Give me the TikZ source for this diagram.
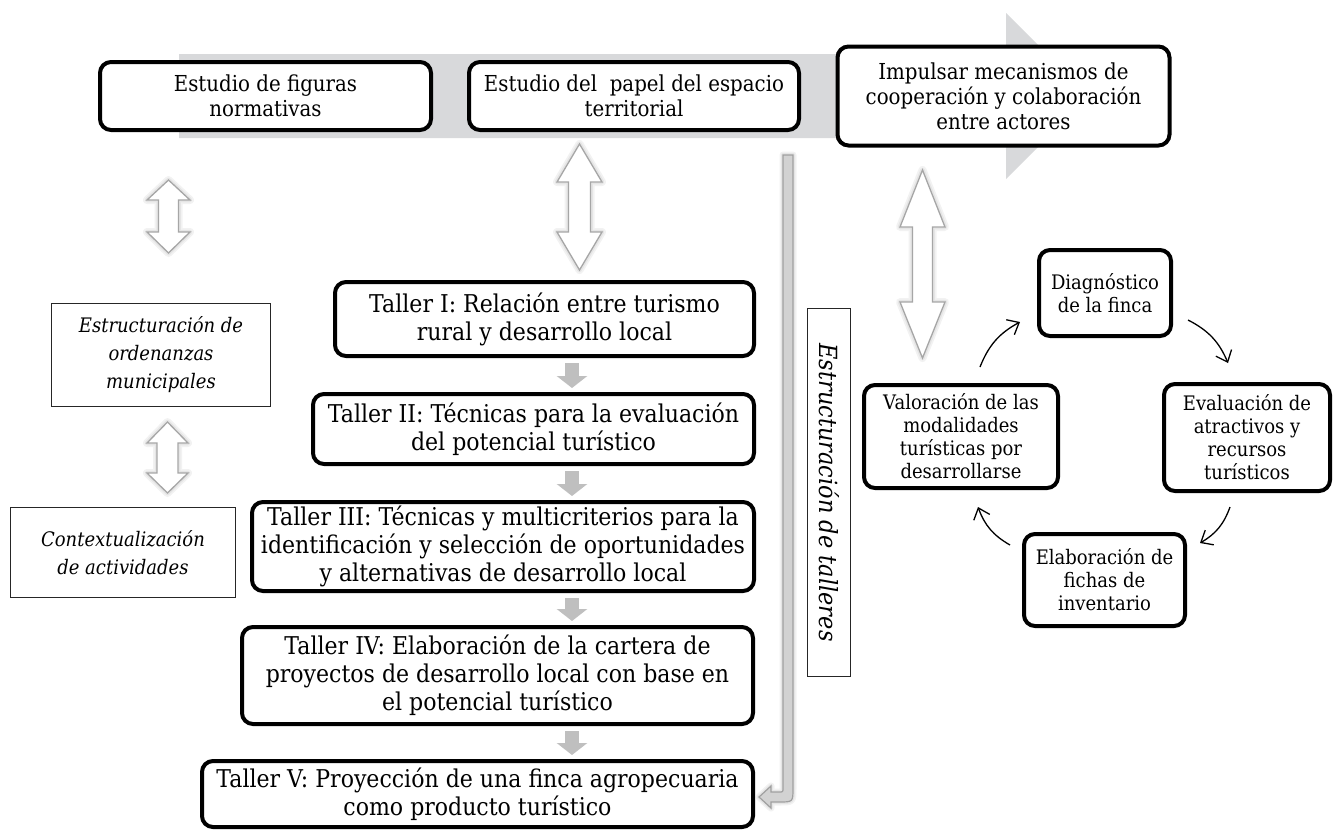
\documentclass[tikz,border=0pt]{standalone}
\usepackage{fontspec}
\setmainfont{DejaVu Serif}[FakeStretch=0.9]
\usetikzlibrary{arrows.meta}
\definecolor{bandgray}{RGB}{216,217,219}
\definecolor{dblgray}{RGB}{166,166,166}
\definecolor{stepgray}{RGB}{191,191,191}
\definecolor{barfill}{RGB}{210,210,210}
\definecolor{barline}{RGB}{160,160,160}
\newcommand{\dblpath}[7]{(#1,#2) -- ({#1+#4},{#2+#6}) -- ({#1+#5},{#2+#6}) -- ({#1+#5},{#3-#7}) -- ({#1+#4},{#3-#7}) -- (#1,#3) -- ({#1-#4},{#3-#7}) -- ({#1-#5},{#3-#7}) -- ({#1-#5},{#2+#6}) -- ({#1-#4},{#2+#6}) -- cycle}
\newcommand{\hollowdbl}[7]{%
  \draw[glow, line width=8pt] \dblpath{#1}{#2}{#3}{#4}{#5}{#6}{#7};
  \draw[glow, line width=4.5pt] \dblpath{#1}{#2}{#3}{#4}{#5}{#6}{#7};
  \draw[dblarrow] \dblpath{#1}{#2}{#3}{#4}{#5}{#6}{#7};}
\newcommand{\bentpath}{(783,155) -- (793,155) -- (793,788) .. controls (793,802) and (793,802) .. (779,802) -- (771,802) -- (771,808) -- (759,797) -- (771,786) -- (771,792) -- (779,792) .. controls (783,792) and (783,792) .. (783,788) -- cycle}
\tikzset{
  glow/.style={black, opacity=0.05, line join=round},
  dblarrow/.style={draw=dblgray, fill=white, line width=1.3pt, line join=miter},
  bigbox/.style={draw=black, line width=4pt, rounded corners=11pt, fill=white, align=center, inner sep=0pt, font=\fontsize{22}{25}\selectfont},
  tallerbox/.style={bigbox, font=\fontsize{24.5}{28}\selectfont},
  cyclebox/.style={bigbox, font=\fontsize{20}{23}\selectfont},
  notebox/.style={draw=black!85, line width=0.8pt, fill=white, align=center, inner sep=0pt, font=\itshape\fontsize{20}{28}\selectfont},
  stepflow/.style={draw=stepgray, line width=14pt, -{Triangle[length=12pt,width=30pt]}, shorten <=5pt, shorten >=4pt},
  cyclearrow/.style={draw=black, line width=1.3pt, -{Straight Barb[length=10pt,width=17pt]}},
}
\begin{document}
\begin{tikzpicture}[x=1pt, y=-1pt]
\fill[white] (0,0) rectangle (1334,831);
\useasboundingbox (0,0) rectangle (1334,831);

% big gray band arrow
\fill[bandgray] (179,54) -- (1006,54) -- (1006,13) -- (1089,96) -- (1006,179) -- (1006,138) -- (179,138) -- cycle;

% top boxes
\node[bigbox, minimum width=331, minimum height=68] (E1) at (265.5,96) {Estudio de figuras\\normativas};
\node[bigbox, minimum width=330, minimum height=68] (E2) at (634,96) {Estudio del\ \ papel del espacio\\territorial};
\node[bigbox, minimum width=332, minimum height=99] (E3) at (1003.5,96) {Impulsar mecanismos de\\cooperación y colaboración\\entre actores};

% side note boxes
\node[notebox, minimum width=219, minimum height=103] (S1) at (161,355) {Estructuración de\\ordenanzas\\municipales};
\node[notebox, minimum width=225, minimum height=90] (S2) at (123,552.5) {Contextualización\\de actividades};

% talleres
\node[tallerbox, minimum width=419, minimum height=74] (T1) at (544.5,319) {Taller I: Relación entre turismo\\rural y desarrollo local};
\node[tallerbox, minimum width=441, minimum height=70] (T2) at (533.5,429) {Taller II: Técnicas para la evaluación\\del potencial turístico};
\node[tallerbox, minimum width=502, minimum height=89] (T3) at (503,546.5) {Taller III: Técnicas y multicriterios para la\\identificación y selección de oportunidades\\y alternativas de desarrollo local};
\node[tallerbox, minimum width=511, minimum height=97] (T4) at (497.5,675.5) {Taller IV: Elaboración de la cartera de\\proyectos de desarrollo local con base en\\el potencial turístico};
\node[tallerbox, minimum width=551, minimum height=66] (T5) at (477.5,794) {Taller V: Proyección de una finca agropecuaria\\como producto turístico};

% vertical label box
\node[notebox, rotate=-90, minimum width=368, minimum height=43, font=\itshape\fontsize{25}{28}\selectfont] (V) at (829,492.5) {Estructuración de talleres};

% cycle
\node[cyclebox, minimum width=132, minimum height=86] (C1) at (1105,293) {Diagnóstico\\de la finca};
\node[cyclebox, minimum width=166, minimum height=107] (C2) at (1247,437.5) {Evaluación de\\atractivos y\\recursos\\turísticos};
\node[cyclebox, minimum width=161, minimum height=92] (C3) at (1104.5,580) {Elaboración de\\fichas de\\inventario};
\node[cyclebox, minimum width=194, minimum height=103] (C4) at (961,436.5) {Valoración de las\\modalidades\\turísticas por\\desarrollarse};

\draw[cyclearrow] ([shift={(19pt,16pt)}]C4.north) to[bend left=20] ([shift={(-17pt,-29pt)}]C1.west);
\draw[cyclearrow] ([shift={(15pt,-27pt)}]C1.east) to[bend left=20] ([shift={(-19pt,19pt)}]C2.north);
\draw[cyclearrow] ([shift={(-17pt,-14pt)}]C2.south) to[bend left=20] ([shift={(13pt,37pt)}]C3.east);
\draw[cyclearrow] ([shift={(-12pt,35pt)}]C3.west) to[bend left=20] ([shift={(17pt,-17pt)}]C4.south);

% step arrows between talleres
\coordinate (ax) at (572,0);
\draw[stepflow] (T1.south -| ax) -- (T2.north -| ax);
\draw[stepflow] (T2.south -| ax) -- (T3.north -| ax);
\draw[stepflow] (T3.south -| ax) -- (T4.north -| ax);
\draw[stepflow] (T4.south -| ax) -- (T5.north -| ax);

% hollow double arrows
\hollowdbl{168.5}{180}{253}{21.5}{10}{20}{21}
\hollowdbl{579.5}{144}{270}{22.5}{11}{38}{38}
\hollowdbl{922.5}{170}{358}{22.5}{10}{57}{56}
\hollowdbl{167.5}{422}{493}{20.5}{10.5}{21}{20}

% bent gray arrow towards Taller V
\draw[glow, line width=7pt] \bentpath;
\draw[glow, line width=4pt] \bentpath;
\draw[fill=barfill, draw=barline, line width=1.2pt, line join=miter] \bentpath;
\end{tikzpicture}
\end{document}
